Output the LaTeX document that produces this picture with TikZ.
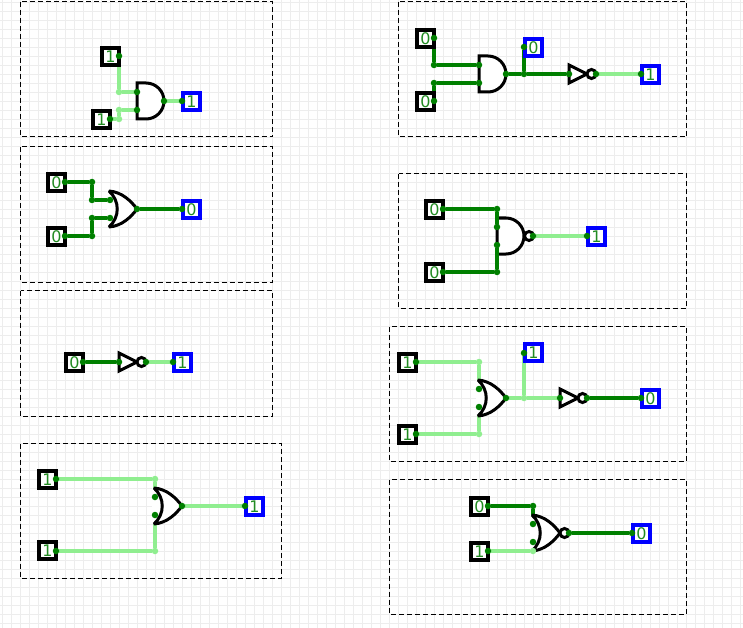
\documentclass[tikz,border=0pt]{standalone}
\usepackage{fontspec}
\setmainfont{DejaVu Sans}
\usepackage{tikz}
\usetikzlibrary{backgrounds}
\definecolor{lowwire}{HTML}{008000}
\definecolor{highwire}{HTML}{90EE90}
\definecolor{gridgray}{HTML}{EDEDED}
\definecolor{valtext}{HTML}{228B22}
\pgfdeclarelayer{under}
\pgfsetlayers{under,main}
\tikzset{
  panel/.style = {draw=black, line width=1pt, dash pattern=on 5pt off 3pt},
  gridline/.style = {draw=gridgray, line width=1.2pt},
  basic/.style = {draw, line width=3.2pt, fill=white, minimum size=17pt, inner sep=0pt,
                  text=valtext, font=\fontsize{16}{16}\selectfont},
  inbox/.style = {basic, draw=black},
  outbox/.style = {basic, draw=blue},
  pin/.style = {circle, fill=lowwire, inner sep=0pt, minimum size=6.5pt},
  lowdot/.style = {pin},
  highdot/.style = {pin, fill=highwire},
  low/.style = {draw=lowwire, line width=3.2pt},
  high/.style = {draw=highwire, line width=3.2pt},
  gate/.style = {draw=black, line width=3pt, fill=white, miter limit=2}
}
\newcommand{\andgate}[2]{
  \draw[gate] (#1,#2-18) -- (#1+9,#2-18) arc (-90:90:18) -- (#1,#2+18) -- cycle;
}
\newcommand{\orgate}[2]{
  \fill[white] (#1-2,#2-18) rectangle (#1+9,#2+18);
  \draw[gate] (#1,#2-18) .. controls (#1+11,#2-8) and (#1+11,#2+8) .. (#1,#2+18)
     .. controls (#1+13,#2+17) and (#1+22,#2+8) .. (#1+28,#2)
     .. controls (#1+22,#2-8) and (#1+13,#2-17) .. (#1,#2-18) -- cycle;
}
\newcommand{\notgate}[2]{
  \draw[gate] (#1,#2-9) -- (#1+18,#2) -- (#1,#2+9) -- cycle;
}
\newcommand{\bubble}[2]{
  \draw[gate] (#1,#2) circle (4.5);
}

\begin{document}
\begin{tikzpicture}[x=1pt,y=-1pt]
  \useasboundingbox (0,0) rectangle (743,628);
  \begin{pgfonlayer}{under}
    \draw[gridline, xshift=2.7pt, yshift=-2.7pt, step=9pt] (-2.7,-2.7) grid (740.3,625.3);
    \draw[panel] (20.5,2) rectangle (272.5,137);
    \draw[panel] (20.5,147) rectangle (272.5,282);
    \draw[panel] (20.5,290.5) rectangle (272.5,416);
    \draw[panel] (20.5,443.5) rectangle (281.5,578);
    \draw[panel] (398.5,2) rectangle (686.5,137);
    \draw[panel] (398.5,174) rectangle (686.5,308);
    \draw[panel] (389.5,326.5) rectangle (686.5,461);
    \draw[panel] (389.5,479.5) rectangle (686.5,614);
  \end{pgfonlayer}

  % and
  \andgate{137}{101}
  \node[inbox] (a1) at (110.5,56.5) {1};
  \node[inbox] (a2) at (101.5,119.5) {1};
  \node[outbox] (aout) at (191.5,101.5) {1};
  \node[pin] (a1p) at (119,56) {};
  \node[pin] (a2p) at (110,119) {};
  \node[highdot] (a3) at (119,92) {};
  \node[highdot] (a4) at (119,119) {};
  \node[highdot] (a5) at (119,110) {};
  \node[pin] (a6) at (137,92) {};
  \node[pin] (a7) at (137,110) {};
  \node[pin] (a8) at (164,101) {};
  \node[pin] (aoutp) at (182,101) {};

  % or
  \orgate{109}{209}
  \node[inbox] (b1) at (56.5,182.5) {0};
  \node[inbox] (b2) at (56.5,236.5) {0};
  \node[outbox] (bout) at (191.5,209.5) {0};
  \node[pin] (b1p) at (65,182) {};
  \node[pin] (b2p) at (65,236) {};
  \node[lowdot] (b3) at (92,182) {};
  \node[lowdot] (b4) at (92,200) {};
  \node[lowdot] (b5) at (92,236) {};
  \node[lowdot] (b6) at (92,218) {};
  \node[pin] (b7) at (110,200) {};
  \node[pin] (b8) at (110,218) {};
  \node[pin] (b9) at (137,209) {};
  \node[pin] (boutp) at (182,209) {};

  % not
  \notgate{119}{362}
  \bubble{141.5}{362}
  \node[inbox] (c1) at (74.5,362.5) {0};
  \node[outbox] (cout) at (182.5,362.5) {1};
  \node[pin] (c1p) at (83,362) {};
  \node[pin] (c2) at (119,362) {};
  \node[pin] (c3) at (146,362) {};
  \node[pin] (coutp) at (173,362) {};

  % wide or
  \orgate{154}{506}
  \node[inbox] (d1) at (47.5,479.5) {1};
  \node[inbox] (d2) at (47.5,550.5) {1};
  \node[outbox] (dout) at (254.5,506.5) {1};
  \node[pin] (d1p) at (56,479) {};
  \node[pin] (d2p) at (56,551) {};
  \node[highdot] (d3) at (155,479) {};
  \node[highdot] (d4) at (155,551) {};
  \node[pin] (d5) at (155,497) {};
  \node[pin] (d6) at (155,515) {};
  \node[pin] (d7) at (182,506) {};
  \node[pin] (doutp) at (245,506) {};

  % and + not
  \andgate{479}{74}
  \notgate{569}{74}
  \bubble{591.5}{74}
  \node[inbox] (e1) at (425.5,38.5) {0};
  \node[inbox] (e2) at (425.5,101.5) {0};
  \node[outbox] (eout) at (533.5,47.5) {0};
  \node[outbox] (fout) at (650.5,74.5) {1};
  \node[pin] (e1p) at (434,38) {};
  \node[pin] (e2p) at (434,101) {};
  \node[lowdot] (e3) at (434,65) {};
  \node[lowdot] (e4) at (434,83) {};
  \node[pin] (e5) at (479,65) {};
  \node[pin] (e6) at (479,83) {};
  \node[pin] (e7) at (506,74) {};
  \node[lowdot] (e8) at (524,74) {};
  \node[pin] (eoutp) at (524,47) {};
  \node[pin] (e9) at (569,74) {};
  \node[pin] (e10) at (596,74) {};
  \node[pin] (foutp) at (641,74) {};

  % nand
  \begin{pgfonlayer}{under}
    \andgate{497}{236}
  \end{pgfonlayer}
  \bubble{529}{236}
  \node[inbox] (g1) at (434.5,209.5) {0};
  \node[inbox] (g2) at (434.5,272.5) {0};
  \node[outbox] (gout) at (596.5,236.5) {1};
  \node[pin] (g1p) at (443,209) {};
  \node[pin] (g2p) at (443,272) {};
  \node[lowdot] (g3) at (497,209) {};
  \node[lowdot] (g4) at (497,272) {};
  \node[pin] (g5) at (497,227) {};
  \node[pin] (g6) at (497,245) {};
  \node[pin] (g7) at (533,236) {};
  \node[pin] (goutp) at (587,236) {};

  % or + not
  \orgate{478}{398}
  \notgate{560}{398}
  \bubble{582.5}{398}
  \node[inbox] (h1) at (407.5,362.5) {1};
  \node[inbox] (h2) at (407.5,434.5) {1};
  \node[outbox] (hout) at (533.5,352.5) {1};
  \node[outbox] (kout) at (650.5,398.5) {0};
  \node[pin] (h1p) at (416,362) {};
  \node[pin] (h2p) at (416,434) {};
  \node[highdot] (h3) at (479,362) {};
  \node[highdot] (h4) at (479,434) {};
  \node[pin] (h5) at (479,389) {};
  \node[pin] (h6) at (479,407) {};
  \node[pin] (h7) at (506,398) {};
  \node[highdot] (h8) at (524,398) {};
  \node[pin] (houtp) at (524,353) {};
  \node[pin] (h9) at (560,398) {};
  \node[pin] (h10) at (587,398) {};
  \node[pin] (koutp) at (641,398) {};

  % nor
  \orgate{532}{533}
  \bubble{564.5}{533}
  \node[inbox] (m1) at (479.5,506.5) {0};
  \node[inbox] (m2) at (479.5,551.5) {1};
  \node[outbox] (mout) at (641.5,533.5) {0};
  \node[pin] (m1p) at (488,506) {};
  \node[pin] (m2p) at (488,551) {};
  \node[lowdot] (m3) at (533,506) {};
  \node[highdot] (m4) at (533,551) {};
  \node[pin] (m5) at (533,524) {};
  \node[pin] (m6) at (533,542) {};
  \node[pin] (m7) at (569,533) {};
  \node[pin] (moutp) at (632,533) {};

  \begin{pgfonlayer}{under}
    \draw[high] (a1p) -- (a3);
    \draw[high] (a3) -- (a6);
    \draw[high] (a2p) -- (a4);
    \draw[high] (a4) -- (a5);
    \draw[high] (a5) -- (a7);
    \draw[high] (a8) -- (aoutp);

    \draw[low] (b1p) -- (b3);
    \draw[low] (b3) -- (b4);
    \draw[low] (b4) -- (b7);
    \draw[low] (b2p) -- (b5);
    \draw[low] (b5) -- (b6);
    \draw[low] (b6) -- (b8);
    \draw[low] (b9) -- (boutp);

    \draw[low] (c1p) -- (c2);
    \draw[high] (c3) -- (coutp);

    \draw[high] (d1p) -- (d3);
    \draw[high] (d3) -- (d5);
    \draw[high] (d2p) -- (d4);
    \draw[high] (d4) -- (d6);
    \draw[high] (d7) -- (doutp);

    \draw[low] (e1p) -- (e3);
    \draw[low] (e3) -- (e5);
    \draw[low] (e2p) -- (e4);
    \draw[low] (e4) -- (e6);
    \draw[low] (e7) -- (e8);
    \draw[low] (e8) -- (eoutp);
    \draw[low] (e8) -- (e9);
    \draw[high] (e10) -- (foutp);

    \draw[low] (g1p) -- (g3);
    \draw[low] (g3) -- (g5);
    \draw[low] (g2p) -- (g4);
    \draw[low] (g4) -- (g6);
    \draw[high] (g7) -- (goutp);

    \draw[high] (h1p) -- (h3);
    \draw[high] (h3) -- (h5);
    \draw[high] (h2p) -- (h4);
    \draw[high] (h4) -- (h6);
    \draw[high] (h7) -- (h8);
    \draw[high] (h8) -- (houtp);
    \draw[high] (h8) -- (h9);
    \draw[low] (h10) -- (koutp);

    \draw[low] (m1p) -- (m3);
    \draw[low] (m3) -- (m5);
    \draw[high] (m2p) -- (m4);
    \draw[high] (m4) -- (m6);
    \draw[low] (m7) -- (moutp);
  \end{pgfonlayer}
\end{tikzpicture}
\end{document}
